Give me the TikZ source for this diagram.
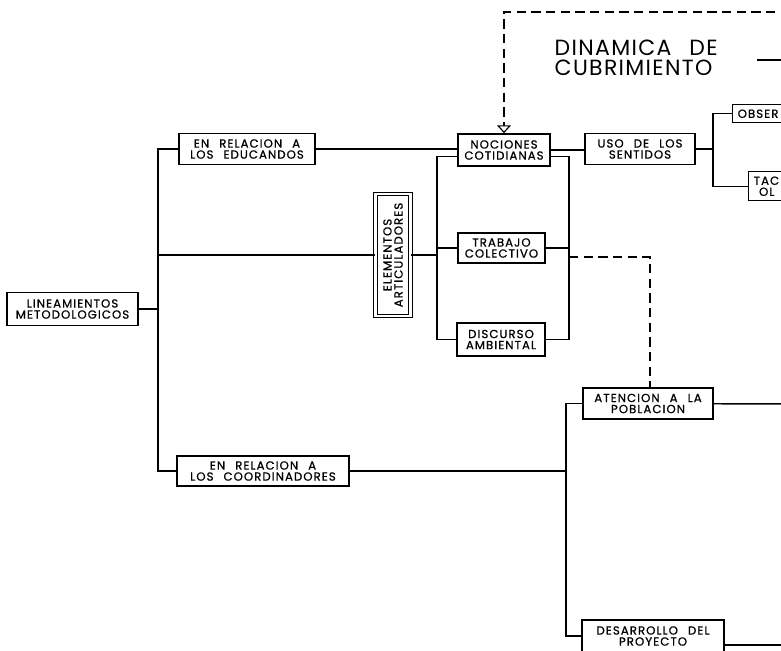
\documentclass[tikz,border=0pt]{standalone}
\usepackage{fontspec}
\setmainfont{Poppins}[LetterSpace=6,WordSpace=2.5]
\newfontfamily\bxfont{Poppins}[LetterSpace=9,WordSpace=2.4,FakeBold=0.8]
\usetikzlibrary{arrows.meta}

\begin{document}
\begin{tikzpicture}[x=0.75pt,y=-0.75pt,line width=1.1pt,
  bx/.style={draw,inner sep=0pt,align=center,
             font=\bxfont\fontsize{8.8}{8.3}\selectfont},
  cutbx/.style={draw,inner xsep=3.75pt,inner ysep=0pt,align=left,
             anchor=north west,text width=60pt,
             font=\bxfont\fontsize{8.8}{8.3}\selectfont},
  ttl/.style={align=left,anchor=north west,inner sep=0pt,
             font=\fontsize{16.5}{15.5}\selectfont},
  dsh/.style={dash pattern=on 7pt off 4pt,line width=0.9pt}]
  \useasboundingbox (0,0) rectangle (781,650);

  \node[bx,minimum width=98pt,minimum height=25pt] (lin) at (72.5,309) {LINEAMIENTOS\\METODOLOGICOS};
  \node[bx,minimum width=102pt,minimum height=23pt] (edu) at (247,149) {EN RELACION A\\LOS EDUCANDOS};
  \node[bx,minimum width=129pt,minimum height=22.5pt] (coo) at (263,471) {EN RELACION A\\LOS COORDINADORES};
  \node[bx,rotate=90,double,double distance=2pt,line width=0.8pt,
        minimum width=91.5pt,minimum height=26.5pt] (ele) at (393,255) {ELEMENTOS\\ARTICULADORES};
  \node[bx,minimum width=69pt,minimum height=24pt] (noc) at (504,150) {NOCIONES\\COTIDIANAS};
  \node[bx,minimum width=65pt,minimum height=22.5pt] (tra) at (501.5,248) {TRABAJO\\COLECTIVO};
  \node[bx,minimum width=66pt,minimum height=24.75pt] (dis) at (501,339.5) {DISCURSO\\AMBIENTAL};
  \node[bx,minimum width=82.5pt,minimum height=23.25pt] (uso) at (640,149) {USO DE LOS\\SENTIDOS};
  \node[bx,minimum width=97.5pt,minimum height=23.25pt] (ate) at (648,403.5) {ATENCION A LA\\POBLACION};
  \node[bx,minimum width=106.5pt,minimum height=24pt] (des) at (653,636) {DESARROLLO DEL\\PROYECTO};
  \node[cutbx,minimum height=13.5pt] (obs) at (732,104) {OBSER};
  \node[cutbx,minimum height=21.75pt] (tac) at (748,171) {TAC\\\hspace*{4pt}OL};
  \node[ttl] (din) at (554,39) {DINAMICA DE\\CUBRIMIENTO};

  \coordinate (lb) at (158,309);
  \coordinate (rb) at (437,255);
  \coordinate (rr) at (569,248);
  \coordinate (ub) at (713,149);
  \coordinate (ab) at (566,471);
  \coordinate (dk) at (650,257);
  \coordinate (dr) at (790,12);
  \coordinate (tl) at (757,60);
  \coordinate (tr) at (790,60);
  \coordinate (ae) at (790,404);
  \coordinate (de) at (790,645);

  \draw (lin) -- (lb);
  \draw (edu.west) -| (lb) |- (coo.west);
  \draw (lb |- ele) -- (ele);
  \draw (edu.east) -- (edu.east -| noc.west);
  \draw (noc.east) -- (noc.east -| uso.west);
  \draw ([yshift=-5pt]noc.west) -| (rb) |- (dis.west);
  \draw (ele) -- (rb);
  \draw (tra.west) -- (tra.west -| rb);
  \draw ([yshift=-5pt]noc.east) -| (rr) |- (dis.east);
  \draw (tra) -- (rr);
  \draw[dsh] (dk -| rr) -- (dk) -- (dk |- ate.north);
  \draw[dsh,-{Triangle[open,width=10.5pt,length=6pt,line width=0.9pt]}] (dr) -| (noc.north);
  \draw (tl) -- (tr);
  \draw (uso) -- (ub);
  \draw (obs.west) -| (ub) |- (tac.west);
  \draw (coo) -- (ab);
  \draw (ate.west) -| (ab) |- (des.west);
  \draw (ate) -- (ae);
  \draw ([yshift=-6.75pt]des.east) -- (de);
\end{tikzpicture}
\end{document}
